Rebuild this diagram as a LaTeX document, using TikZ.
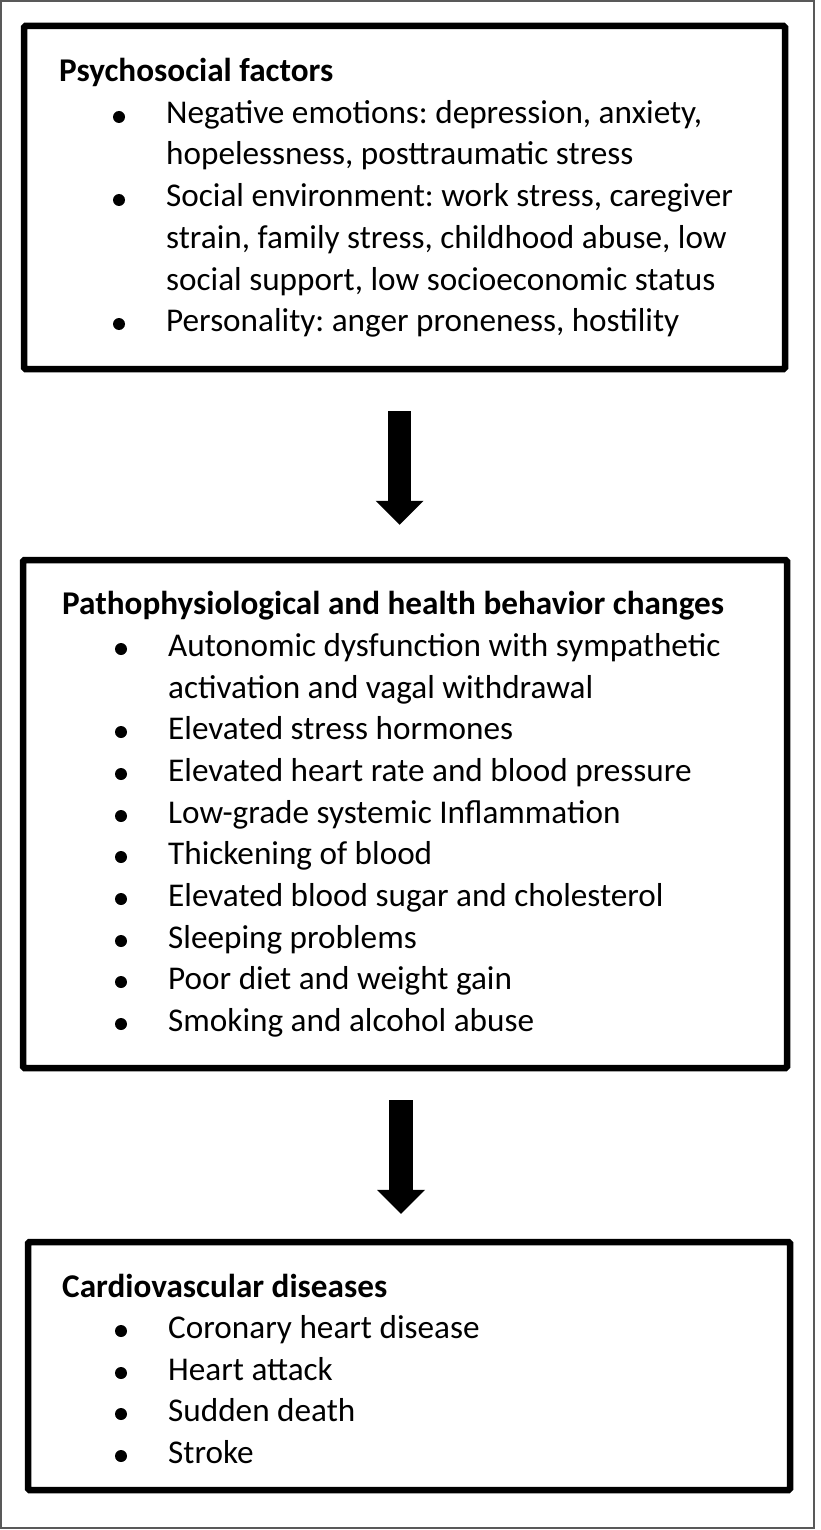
\documentclass[tikz,border=0pt]{standalone}
\usepackage{fontspec}
\setmainfont{Carlito}
\usetikzlibrary{arrows.meta,calc}
\frenchspacing
\begin{document}
\begin{tikzpicture}[x=1pt,y=-1pt,
  box/.style={draw=black,line width=6.5pt,rounded corners=1.5pt,inner sep=0pt,fill=none},
  head/.style={anchor=base west,inner sep=0pt,font=\fontsize{33.2}{40}\selectfont\bfseries},
  line/.style={anchor=base west,inner sep=0pt,font=\fontsize{33.2}{40}\selectfont},
  bul/.style={circle,fill=black,inner sep=0pt,minimum size=12pt},
  bigarrow/.style={line width=23.5pt,-{Triangle[width=48pt,length=24pt,line width=0pt]}}]
\useasboundingbox (0,0) rectangle (820,1530);
\draw[black!65,line width=1.3pt] (1,1) rectangle (814,1528);
% boxes
\node[box,minimum width=761pt,minimum height=343pt] (box1) at (404.5,197.5) {};
\node[box,minimum width=764pt,minimum height=508pt] (box2) at (405,814) {};
\node[box,minimum width=762pt,minimum height=248pt] (box3) at (409,1366) {};
% box 1 text
\node[head] (h1) at (59,82) {Psychosocial factors};
\node[line] (t11) at (166,124) {Negative emotions: depression, anxiety,};
\node[line] (t12) at (166,165) {hopelessness, posttraumatic stress};
\node[line] (t13) at (166,207) {Social environment: work stress, caregiver};
\node[line] (t14) at (166,248) {strain, family stress, childhood abuse, low};
\node[line] (t15) at (166,290) {social support, low socioeconomic status};
\node[line] (t16) at (166,331) {Personality: anger proneness, hostility};
\node[bul] (b11) at (119,117) {};
\node[bul] (b12) at (119,200) {};
\node[bul] (b13) at (119,324) {};
% box 2 text
\node[head] (h2) at (62,614) {Pathophysiological and health behavior changes};
\node[line] (t21) at (168,656) {Autonomic dysfunction with sympathetic};
\node[line] (t22) at (168,698) {activation and vagal withdrawal};
\node[line] (t23) at (168,739) {Elevated stress hormones};
\node[line] (t24) at (168,781) {Elevated heart rate and blood pressure};
\node[line] (t25) at (168,823) {Low-grade systemic Inflammation};
\node[line] (t26) at (168,864) {Thickening of blood};
\node[line] (t27) at (168,906) {Elevated blood sugar and cholesterol};
\node[line] (t28) at (168,948) {Sleeping problems};
\node[line] (t29) at (168,989) {Poor diet and weight gain};
\node[line] (t2a) at (168,1031) {Smoking and alcohol abuse};
\node[bul] (b21) at (121,649) {};
\node[bul] (b23) at (121,732) {};
\node[bul] (b24) at (121,774) {};
\node[bul] (b25) at (121,816) {};
\node[bul] (b26) at (121,857) {};
\node[bul] (b27) at (121,899) {};
\node[bul] (b28) at (121,941) {};
\node[bul] (b29) at (121,982) {};
\node[bul] (b2a) at (121,1024) {};
% box 3 text
\node[head] (h3) at (62,1297) {Cardiovascular diseases};
\node[line] (t31) at (168,1338) {Coronary heart disease};
\node[line] (t32) at (168,1380) {Heart attack};
\node[line] (t33) at (168,1421) {Sudden death};
\node[line] (t34) at (168,1463) {Stroke};
\node[bul] (b31) at (121,1331) {};
\node[bul] (b32) at (121,1373) {};
\node[bul] (b33) at (121,1414) {};
\node[bul] (b34) at (121,1456) {};
% arrows
\draw[bigarrow] ($(box1.south)+(-5,39)$) -- ($(box2.north)+(-5.5,-32)$);
\draw[bigarrow] ($(box2.south)+(-4,29)$) -- ($(box3.north)+(-8,-25)$);
\end{tikzpicture}
\end{document}
